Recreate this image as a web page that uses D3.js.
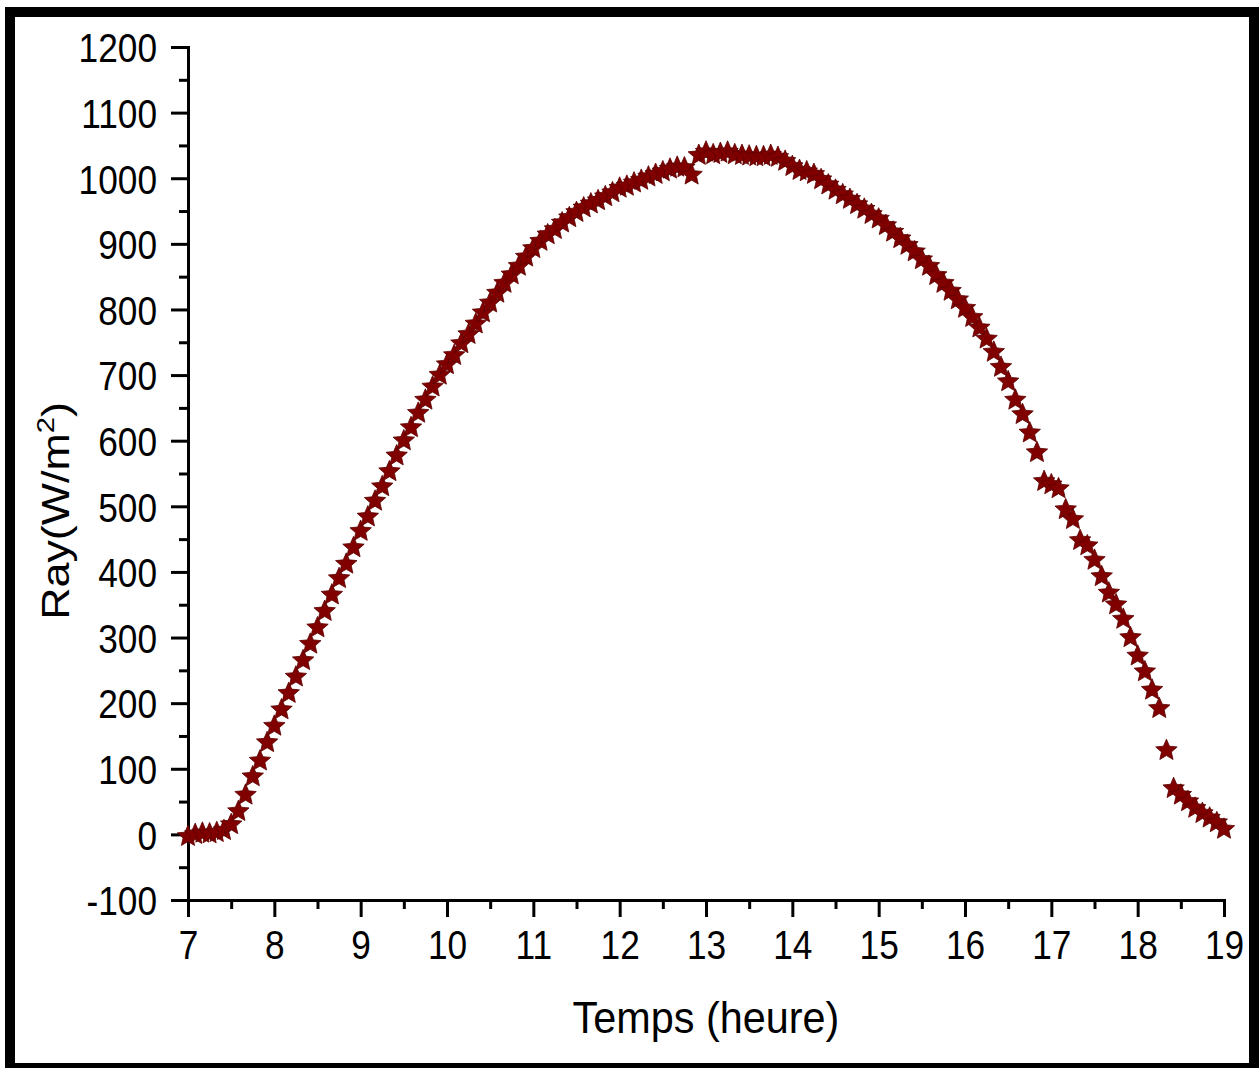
<!DOCTYPE html>
<html>
<head>
<meta charset="utf-8">
<script src="https://cdn.jsdelivr.net/npm/d3@7"></script>
<style>
  html, body { margin: 0; padding: 0; background: #ffffff; }
  svg { display: block; }
</style>
</head>
<body>
<script>
// ---------------- DATA ----------------
const times = [
  "07:00","07:05","07:10","07:15","07:20","07:25","07:30","07:35","07:40","07:45","07:50","07:55",
  "08:00","08:05","08:10","08:15","08:20","08:25","08:30","08:35","08:40","08:45","08:50","08:55",
  "09:00","09:05","09:10","09:15","09:20","09:25","09:30","09:35","09:40","09:45","09:50","09:55",
  "10:00","10:05","10:10","10:15","10:20","10:25","10:30","10:35","10:40","10:45","10:50","10:55",
  "11:00","11:05","11:10","11:15","11:20","11:25","11:30","11:35","11:40","11:45","11:50","11:55",
  "12:00","12:05","12:10","12:15","12:20","12:25","12:30","12:35","12:40","12:45","12:50","12:55",
  "13:00","13:05","13:10","13:15","13:20","13:25","13:30","13:35","13:40","13:45","13:50","13:55",
  "14:00","14:05","14:10","14:15","14:20","14:25","14:30","14:35","14:40","14:45","14:50","14:55",
  "15:00","15:05","15:10","15:15","15:20","15:25","15:30","15:35","15:40","15:45","15:50","15:55",
  "16:00","16:05","16:10","16:15","16:20","16:25","16:30","16:35","16:40","16:45","16:50","16:55",
  "17:00","17:05","17:10","17:15","17:20","17:25","17:30","17:35","17:40","17:45","17:50","17:55",
  "18:00","18:05","18:10","18:15","18:20","18:25","18:30","18:35","18:40","18:45","18:50","18:55",
  "19:00"
];
const irradiance = [
  -3, 0, 2, 1, 3, 6, 15, 35, 60, 88, 112, 140,
  165, 190, 215, 240, 265, 290, 315, 340, 365, 390, 412, 437,
  462, 484, 508, 530, 553, 577, 600, 620, 642, 662, 682, 700,
  716, 730, 748, 762, 778, 795, 810, 825, 840, 853, 866, 880,
  893, 904, 914, 922, 932, 940, 948, 955, 961, 966, 972, 978,
  985, 988, 993, 997, 1002, 1006, 1010, 1014, 1017, 1016, 1005, 1035,
  1040, 1036, 1038, 1040, 1036, 1035, 1034, 1033, 1033, 1035, 1032, 1026,
  1018, 1012, 1010, 1006, 998, 990, 982, 975, 968, 960, 953, 945,
  938, 928, 918, 908, 898, 888, 876, 866, 852, 840, 828, 815,
  802, 788, 772, 755, 735, 712, 690, 662, 640, 612, 582, 538,
  533, 527, 495, 480, 448, 440, 418, 393, 368, 350, 328, 300,
  272, 248, 220, 192, 128, 70, 60, 50, 40, 32, 25, 18,
  8
];
const xTicks = [7, 8, 9, 10, 11, 12, 13, 14, 15, 16, 17, 18, 19];
const xMinorTicks = [7.5, 8.5, 9.5, 10.5, 11.5, 12.5, 13.5, 14.5, 15.5, 16.5, 17.5, 18.5];
const yTicks = [-100, 0, 100, 200, 300, 400, 500, 600, 700, 800, 900, 1000, 1100, 1200];
const yMinorTicks = [-50, 50, 150, 250, 350, 450, 550, 650, 750, 850, 950, 1050, 1150];
const xTitle = "Temps (heure)";
const yTitleMain = "Ray(W/m";
const yTitleSup = "2";
const yTitleEnd = ")";

// ---------------- CHART ----------------
const W = 1260, H = 1068;
const svg = d3.select("body").append("svg").attr("width", W).attr("height", H);
const FONT = "'Liberation Sans', Arial, Helvetica, sans-serif";
const SX = 0.86; // horizontal condensing of tick labels

svg.append("rect").attr("x", 0).attr("y", 0).attr("width", W).attr("height", H).attr("fill", "#fff");

// black frame
svg.append("rect")
  .attr("x", 10).attr("y", 12).attr("width", 1244).attr("height", 1056)
  .attr("fill", "none").attr("stroke", "#000").attr("stroke-width", 10);

const x = d3.scaleLinear().domain([7, 19]).range([188, 1224]);
const y = d3.scaleLinear().domain([-100, 1200]).range([900, 47]);

const parseHour = s => { const [h, m] = s.split(":").map(Number); return h + m / 60; };
const data = times.map((t, i) => ({ t: parseHour(t), v: irradiance[i] }));

// minor ticks
svg.append("g").attr("transform", `translate(0,${y(-100)})`)
  .call(d3.axisBottom(x).tickValues(xMinorTicks).tickSize(9).tickFormat(""))
  .call(g => g.select(".domain").remove())
  .call(g => g.selectAll("line").attr("stroke", "#000").attr("stroke-width", 3));
svg.append("g").attr("transform", `translate(${x(7)},0)`)
  .call(d3.axisLeft(y).tickValues(yMinorTicks).tickSize(9).tickFormat(""))
  .call(g => g.select(".domain").remove())
  .call(g => g.selectAll("line").attr("stroke", "#000").attr("stroke-width", 3));

// major axes
const fmt = d => String(d);
const xAxis = svg.append("g").attr("transform", `translate(0,${y(-100)})`)
  .call(d3.axisBottom(x).tickValues(xTicks).tickSize(17).tickSizeOuter(0).tickPadding(13).tickFormat(fmt));
const yAxis = svg.append("g").attr("transform", `translate(${x(7)},0)`)
  .call(d3.axisLeft(y).tickValues(yTicks).tickSize(17).tickSizeOuter(0).tickPadding(14).tickFormat(fmt));

[xAxis, yAxis].forEach(g => {
  g.select(".domain").attr("stroke", "#000").attr("stroke-width", 3).attr("stroke-linecap", "square");
  g.selectAll(".tick line").attr("stroke", "#000").attr("stroke-width", 3);
  g.selectAll(".tick text").attr("fill", "#000").attr("font-family", FONT).attr("font-size", 41)
    .attr("transform", `scale(${SX},1)`);
});
yAxis.selectAll(".tick text").attr("dy", "0.36em").attr("x", -31 / SX);

// stars (5-pointed, slightly fat like Origin's star symbol)
const fatStar = {
  draw(context, size) {
    const R = Math.sqrt(size) * 0.92, r = R * 0.46;
    for (let i = 0; i < 10; i++) {
      const a = -Math.PI / 2 + i * Math.PI / 5;
      const rad = i % 2 === 0 ? R : r;
      const px = rad * Math.cos(a), py = rad * Math.sin(a);
      if (i === 0) context.moveTo(px, py); else context.lineTo(px, py);
    }
    context.closePath();
  }
};
const star = d3.symbol().type(fatStar).size(150)();
svg.append("g").selectAll("path").data(data).join("path")
  .attr("d", star)
  .attr("transform", d => `translate(${x(d.t)},${y(d.v)})`)
  .attr("fill", "#800000")
  .attr("stroke", "#5c0000")
  .attr("stroke-width", 0.8);

// axis titles
svg.append("text")
  .attr("transform", `translate(${(x(7) + x(19)) / 2},1033) scale(0.92,1)`)
  .attr("text-anchor", "middle")
  .attr("font-family", FONT).attr("font-size", 45).attr("fill", "#000")
  .text(xTitle);

const yt = svg.append("text")
  .attr("transform", "translate(69,511) rotate(-90) scale(1.12,0.95)")
  .attr("text-anchor", "middle")
  .attr("font-family", FONT).attr("font-size", 40).attr("fill", "#000");
yt.append("tspan").text(yTitleMain);
yt.append("tspan").attr("font-size", 26).attr("dy", -16).text(yTitleSup);
yt.append("tspan").attr("dy", 16).text(yTitleEnd);
</script>
</body>
</html>
